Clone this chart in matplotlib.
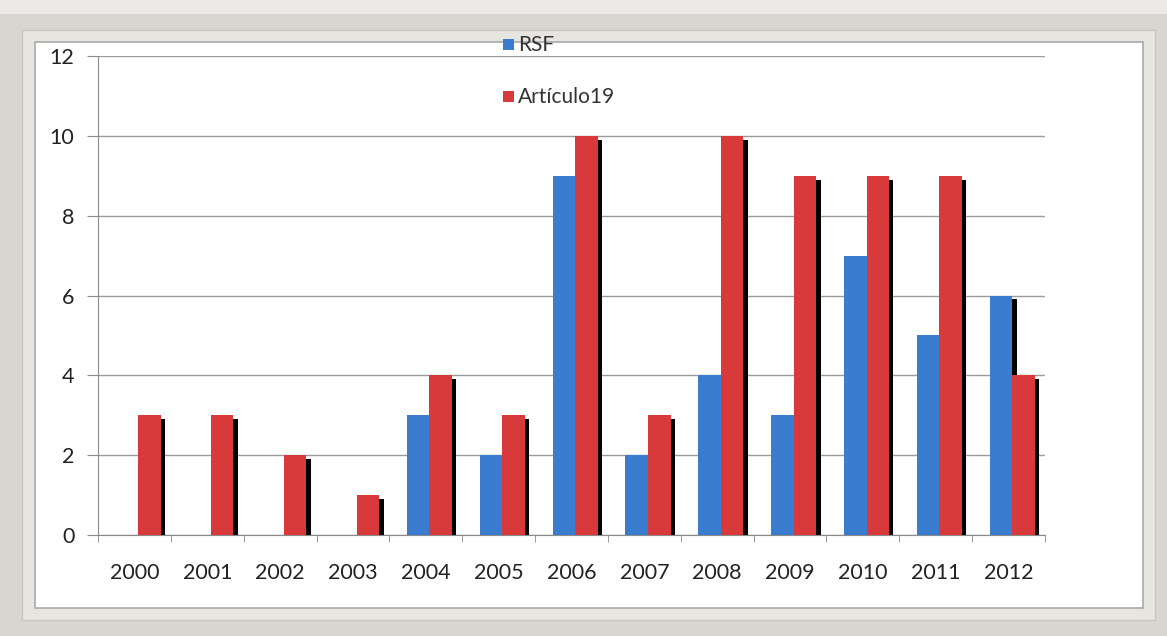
import matplotlib
matplotlib.use("Agg")
import matplotlib.pyplot as plt
from matplotlib.patches import Rectangle
import numpy as np

plt.rcParams["font.family"] = ["Lato", "DejaVu Sans"]

# ── data ─────────────────────────────────────────────────────────────────────
years = ["2000", "2001", "2002", "2003", "2004", "2005", "2006",
         "2007", "2008", "2009", "2010", "2011", "2012"]
rsf = [0, 0, 0, 0, 3, 2, 9, 2, 4, 3, 7, 5, 6]
articulo19 = [3, 3, 2, 1, 4, 3, 10, 3, 10, 9, 9, 9, 4]

BLUE = "#3a7dcf"
RED = "#d8393a"
W, H = 1167, 636


def px(x, y):
    """pixel (from top-left) -> figure fraction"""
    return x / W, 1 - y / H


fig = plt.figure(figsize=(W / 100, H / 100), dpi=100, facecolor="#d8d6cf")

# light strip along the top edge and white inner panel
fig.add_artist(Rectangle(px(0, 14), 1, 14 / H, transform=fig.transFigure,
                         facecolor="#ebeae6", edgecolor="none", zorder=0))
fig.add_artist(Rectangle(px(22, 620), (1155 - 22) / W, (620 - 30) / H,
                         transform=fig.transFigure, facecolor="#e6e5e0",
                         edgecolor="#c9c7c0", lw=1.0, zorder=0))
fig.add_artist(Rectangle(px(35, 608), (1143 - 35) / W, (608 - 42) / H,
                         transform=fig.transFigure, facecolor="white",
                         edgecolor="#a9a9a9", lw=1.2, zorder=0))

x0, y0 = px(98, 535)
x1, y1 = px(1045, 56)
ax = fig.add_axes([x0, y0, x1 - x0, y1 - y0])
ax.set_facecolor("none")

x = np.arange(len(years))
bw = 0.31
off = 0.05
shadow_dx = 0.06
shadow_dy = 0.1

rsf_x = x + off - bw / 2
art_x = x + off + bw / 2

# drop shadows behind each bar
ax.bar(rsf_x + shadow_dx, np.maximum(np.array(rsf) - shadow_dy, 0), bw,
       color="black", zorder=2)
ax.bar(art_x + shadow_dx, np.array(articulo19) - shadow_dy, bw,
       color="black", zorder=2)
ax.bar(rsf_x, rsf, bw, color=BLUE, zorder=3)
ax.bar(art_x, articulo19, bw, color=RED, zorder=3)

ax.set_xlim(-0.5, len(years) - 0.5)
ax.set_ylim(0, 12)
ax.set_yticks(range(0, 13, 2))
ax.yaxis.grid(True, color="#9a9a9a", lw=1.0)
ax.set_axisbelow(True)

ax.set_xticks(x)
ax.set_xticklabels(years)
ax.set_xticks(np.arange(-0.5, len(years)), minor=True)
ax.tick_params(axis="x", which="major", length=0, pad=20,
               labelsize=15.5, labelcolor="#222222")
ax.tick_params(axis="x", which="minor", length=5, color="#8a8a8a")
ax.tick_params(axis="y", length=8, color="#8a8a8a", pad=9,
               labelsize=15.5, labelcolor="#222222")

for side in ("top", "right"):
    ax.spines[side].set_visible(False)
ax.spines["left"].set_color("#8a8a8a")
ax.spines["bottom"].set_color("#8a8a8a")

# legend, placed by hand across the top of the plot
for (lx, ly), col, label in [((503, 45), BLUE, "RSF"),
                             ((503, 97), RED, "Artículo19")]:
    fx, fy = px(lx, ly + 5)
    fig.add_artist(Rectangle((fx, fy), 11 / W, 11 / H,
                             transform=fig.transFigure, facecolor=col,
                             edgecolor="none", zorder=5))
    tx, ty = px(lx + 15, ly)
    fig.text(tx, ty, label, fontsize=15, color="#333333",
             va="center", ha="left", zorder=5)

fig.savefig("out.png", dpi=100, facecolor=fig.get_facecolor())
